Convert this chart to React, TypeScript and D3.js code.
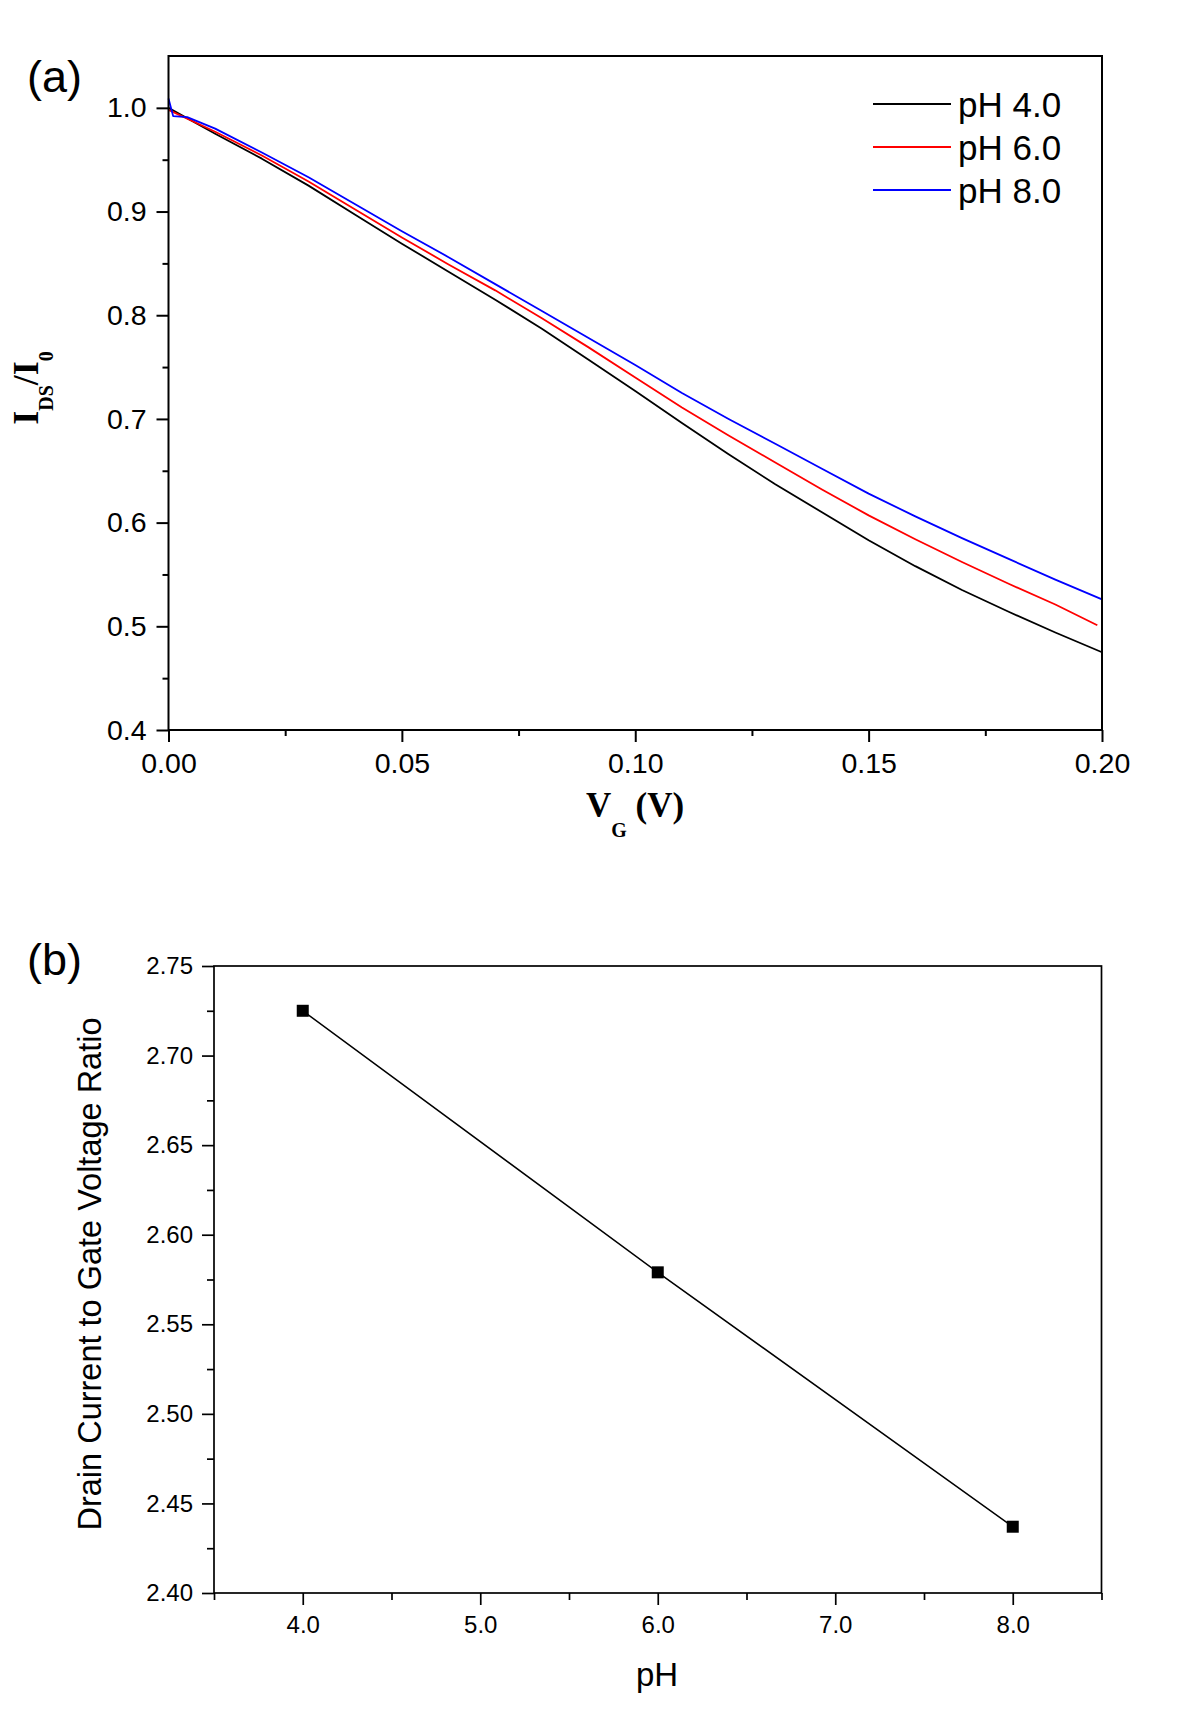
import React, { useEffect, useRef } from "react";
import * as d3 from "d3";

// ---- Panel (a) data: I_DS/I_0 vs V_G ----
const vgBlack = [0, 0.01, 0.02, 0.03, 0.04, 0.05, 0.06, 0.07, 0.08, 0.09, 0.10, 0.11, 0.12, 0.13, 0.14, 0.15, 0.16, 0.17, 0.18, 0.19, 0.20];
const ph4 = [1.000, 0.975, 0.951, 0.925, 0.897, 0.869, 0.842, 0.815, 0.787, 0.757, 0.727, 0.696, 0.666, 0.637, 0.610, 0.583, 0.558, 0.535, 0.514, 0.494, 0.475];
const vgRed = [0, 0.01, 0.02, 0.03, 0.04, 0.05, 0.06, 0.07, 0.08, 0.09, 0.10, 0.11, 0.12, 0.13, 0.14, 0.15, 0.16, 0.17, 0.18, 0.19, 0.199];
const ph6 = [0.998, 0.977, 0.954, 0.929, 0.902, 0.875, 0.849, 0.824, 0.797, 0.769, 0.740, 0.711, 0.684, 0.658, 0.632, 0.607, 0.584, 0.562, 0.541, 0.521, 0.501];
const vgBlue = [0, 0.001, 0.004, 0.01, 0.02, 0.03, 0.04, 0.05, 0.06, 0.07, 0.08, 0.09, 0.10, 0.11, 0.12, 0.13, 0.14, 0.15, 0.16, 0.17, 0.18, 0.19, 0.20];
const ph8 = [1.009, 0.992, 0.991, 0.980, 0.957, 0.933, 0.907, 0.881, 0.856, 0.830, 0.804, 0.778, 0.752, 0.725, 0.700, 0.676, 0.652, 0.628, 0.606, 0.585, 0.565, 0.545, 0.526];
const seriesNames = ["pH 4.0", "pH 6.0", "pH 8.0"];
const seriesColors = ["#000000", "#ff0000", "#0000ff"];
const aXTicks = [0, 0.05, 0.10, 0.15, 0.20];
const aXMinor = [0.025, 0.075, 0.125, 0.175];
const aYTicks = [0.4, 0.5, 0.6, 0.7, 0.8, 0.9, 1.0];
const aYMinor = [0.45, 0.55, 0.65, 0.75, 0.85, 0.95];

// ---- Panel (b) data: ratio vs pH ----
const phValues = [4.0, 6.0, 8.0];
const ratioValues = [2.725, 2.579, 2.437];
const bXTicks = [4, 5, 6, 7, 8];
const bXMinor = [3.5, 4.5, 5.5, 6.5, 7.5, 8.5];
const bYTicks = [2.40, 2.45, 2.50, 2.55, 2.60, 2.65, 2.70, 2.75];
const bYMinor = [2.425, 2.475, 2.525, 2.575, 2.625, 2.675, 2.725];

const SANS = "'Liberation Sans', Arial, sans-serif";
const SERIF = "'Liberation Serif', 'Times New Roman', serif";

export default function App() {
  const ref = useRef<SVGSVGElement>(null);

  useEffect(() => {
    const svg = d3.select(ref.current);
    svg.selectAll("*").remove();

    // ================= Panel (a) =================
    const ax = d3.scaleLinear().domain([0, 0.2]).range([168.5, 1102]);
    const ay = d3.scaleLinear().domain([0.4, 1.05]).range([730, 56]);
    const ga = svg.append("g");

    const styleAxis = (g: any, fs: number, sw: number) => {
      g.selectAll("path.domain").remove();
      g.selectAll("line").attr("stroke", "#000").attr("stroke-width", sw);
      g.selectAll("text").attr("font-family", SANS).attr("font-size", fs).attr("fill", "#000");
    };

    ga.append("g").attr("transform", `translate(0,730)`)
      .call(d3.axisBottom(ax).tickValues(aXTicks).tickSize(12).tickPadding(11).tickFormat(d3.format(".2f")))
      .call((g: any) => styleAxis(g, 28.5, 2));
    ga.append("g").attr("transform", `translate(0,730)`)
      .call(d3.axisBottom(ax).tickValues(aXMinor).tickSize(6).tickFormat(() => ""))
      .call((g: any) => styleAxis(g, 28.5, 2));
    ga.append("g").attr("transform", `translate(168.5,0)`)
      .call(d3.axisLeft(ay).tickValues(aYTicks).tickSize(12).tickPadding(10).tickFormat(d3.format(".1f")))
      .call((g: any) => styleAxis(g, 28.5, 2));
    ga.append("g").attr("transform", `translate(168.5,0)`)
      .call(d3.axisLeft(ay).tickValues(aYMinor).tickSize(6).tickFormat(() => ""))
      .call((g: any) => styleAxis(g, 28.5, 2));

    const seriesA = [
      { xs: vgBlack, ys: ph4 },
      { xs: vgRed, ys: ph6 },
      { xs: vgBlue, ys: ph8 },
    ];
    const lineA = d3.line<[number, number]>().x((d) => ax(d[0])).y((d) => ay(d[1]));
    seriesA.forEach((s, i) => {
      const pts: [number, number][] = s.xs.map((x, j) => [x, s.ys[j]]);
      ga.append("path").attr("d", lineA(pts)).attr("fill", "none")
        .attr("stroke", seriesColors[i]).attr("stroke-width", 1.8).attr("stroke-linejoin", "round");
    });

    ga.append("rect").attr("x", 168.5).attr("y", 56).attr("width", 1102 - 168.5).attr("height", 730 - 56)
      .attr("fill", "none").attr("stroke", "#000").attr("stroke-width", 2);

    // legend
    seriesNames.forEach((name, i) => {
      const ly = 104 + i * 43;
      ga.append("line").attr("x1", 873).attr("x2", 951).attr("y1", ly).attr("y2", ly)
        .attr("stroke", seriesColors[i]).attr("stroke-width", 1.8);
      ga.append("text").attr("x", 958).attr("y", ly + 12.5).attr("font-family", SANS)
        .attr("font-size", 35).attr("fill", "#000").text(name);
    });

    ga.append("text").attr("x", 27).attr("y", 91.5).attr("font-family", SANS).attr("font-size", 45).text("(a)");

    // x label V_G (V)
    const xl = ga.append("text").attr("x", 635).attr("y", 817).attr("text-anchor", "middle")
      .attr("font-family", SERIF).attr("font-weight", "bold").attr("font-size", 35);
    xl.append("tspan").text("V");
    xl.append("tspan").attr("font-size", 20).attr("dy", 20).text("G");
    xl.append("tspan").attr("dy", -20).text(" (V)");

    // y label I_DS/I_0
    const yl = ga.append("text").attr("transform", "translate(38,388) rotate(-90)").attr("text-anchor", "middle")
      .attr("font-family", SERIF).attr("font-weight", "bold").attr("font-size", 36);
    yl.append("tspan").text("I");
    yl.append("tspan").attr("font-size", 20).attr("dy", 15).text("DS");
    yl.append("tspan").attr("dy", -15).text("/I");
    yl.append("tspan").attr("font-size", 20).attr("dy", 15).text("0");

    // ================= Panel (b) =================
    const bx = d3.scaleLinear().domain([3.5, 8.5]).range([214, 1101.5]);
    const by = d3.scaleLinear().domain([2.40, 2.75]).range([1593, 966]);
    const gb = svg.append("g");

    gb.append("g").attr("transform", `translate(0,1593)`)
      .call(d3.axisBottom(bx).tickValues(bXTicks).tickSize(12).tickPadding(11).tickFormat(d3.format(".1f")))
      .call((g: any) => styleAxis(g, 24, 1.7));
    gb.append("g").attr("transform", `translate(0,1593)`)
      .call(d3.axisBottom(bx).tickValues(bXMinor).tickSize(7).tickFormat(() => ""))
      .call((g: any) => styleAxis(g, 24, 1.7));
    gb.append("g").attr("transform", `translate(214,0)`)
      .call(d3.axisLeft(by).tickValues(bYTicks).tickSize(12).tickPadding(9).tickFormat(d3.format(".2f")))
      .call((g: any) => styleAxis(g, 24, 1.7));
    gb.append("g").attr("transform", `translate(214,0)`)
      .call(d3.axisLeft(by).tickValues(bYMinor).tickSize(7).tickFormat(() => ""))
      .call((g: any) => styleAxis(g, 24, 1.7));

    const ptsB: [number, number][] = phValues.map((p, i) => [p, ratioValues[i]]);
    const lineB = d3.line<[number, number]>().x((d) => bx(d[0])).y((d) => by(d[1]));
    gb.append("path").attr("d", lineB(ptsB)).attr("fill", "none").attr("stroke", "#000").attr("stroke-width", 1.5);
    gb.selectAll("rect.pt").data(ptsB).enter().append("rect").attr("class", "pt")
      .attr("x", (d) => bx(d[0]) - 6).attr("y", (d) => by(d[1]) - 6)
      .attr("width", 12).attr("height", 12).attr("fill", "#000");

    gb.append("rect").attr("x", 214).attr("y", 966).attr("width", 1101.5 - 214).attr("height", 1593 - 966)
      .attr("fill", "none").attr("stroke", "#000").attr("stroke-width", 1.7);

    gb.append("text").attr("x", 27).attr("y", 975).attr("font-family", SANS).attr("font-size", 45).text("(b)");

    gb.append("text").attr("x", 657).attr("y", 1686).attr("text-anchor", "middle")
      .attr("font-family", SANS).attr("font-size", 33).text("pH");

    gb.append("text").attr("transform", "translate(101,1274) rotate(-90)").attr("text-anchor", "middle")
      .attr("font-family", SANS).attr("font-size", 32.5).text("Drain Current to Gate Voltage Ratio");
  }, []);

  return (
    <svg ref={ref} width={1200} height={1733}
      style={{ position: "absolute", left: 0, top: 0, background: "#fff", display: "block" }} />
  );
}
